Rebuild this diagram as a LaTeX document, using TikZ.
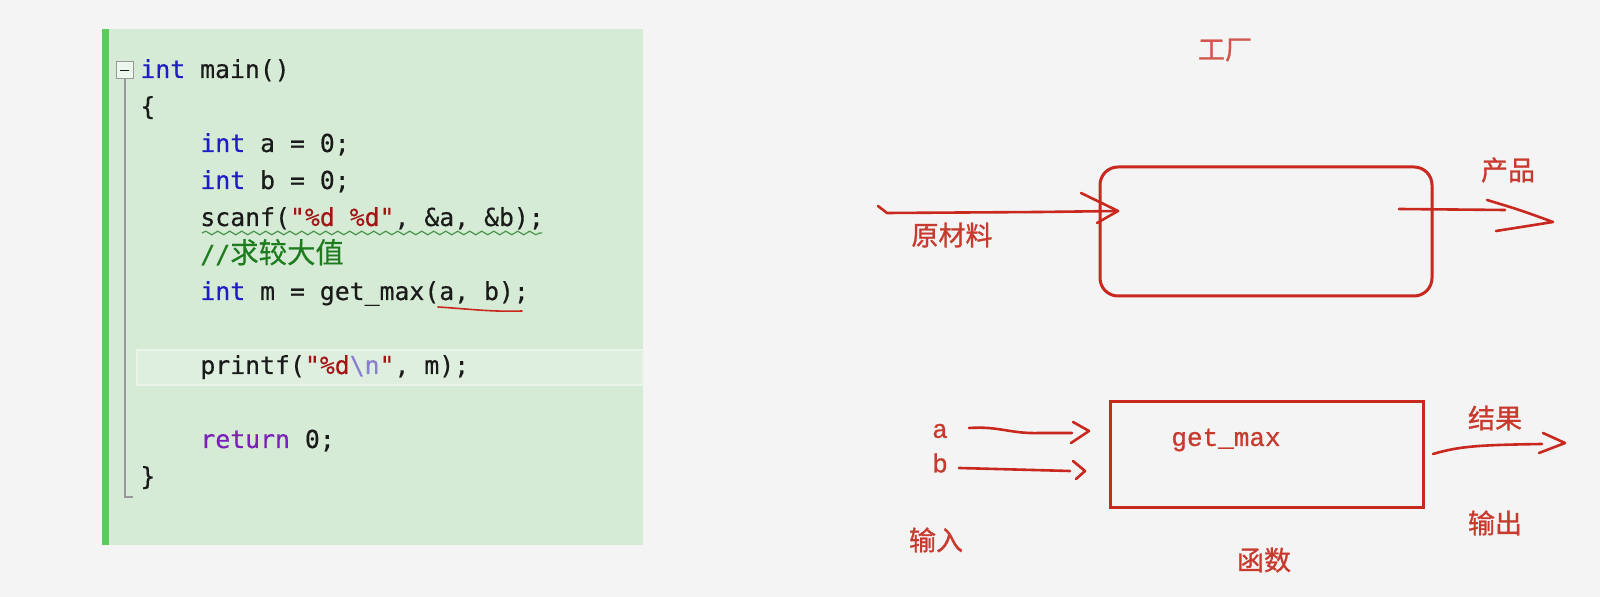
\documentclass[tikz,border=0pt]{standalone}
\usepackage{fontspec}
\setmainfont{DejaVu Sans}
\newfontfamily\codefont{DejaVu Sans Mono}[FakeBold=0.4]
\newfontfamily\cjk{Noto Sans CJK SC}[FakeBold=0.4]
\newfontfamily\cjklbl{Noto Sans CJK SC}[FakeBold=1]
\newfontfamily\gfont{Liberation Mono}[FakeBold=0.8]
\usetikzlibrary{decorations.pathmorphing,calc}
\definecolor{bg}{HTML}{F4F4F4}
\definecolor{panel}{HTML}{D5EBD5}
\definecolor{bar}{HTML}{5CCB5C}
\definecolor{band}{HTML}{DFEFDF}
\definecolor{kwc}{HTML}{1E1EC4}
\definecolor{retc}{HTML}{7A22B8}
\definecolor{strc}{HTML}{A31515}
\definecolor{escc}{HTML}{8A80D0}
\definecolor{cmtc}{HTML}{1E7B1E}
\definecolor{txtc}{HTML}{1A1A1A}
\definecolor{penc}{HTML}{C8281E}
\definecolor{lblc}{HTML}{C83A2E}
\newcommand{\ckw}[1]{\textcolor{kwc}{#1}}
\newcommand{\cret}[1]{\textcolor{retc}{#1}}
\newcommand{\cstr}[1]{\textcolor{strc}{#1}}
\newcommand{\cesc}[1]{\textcolor{escc}{#1}}
\tikzset{
  code/.style={anchor=base west, inner sep=0pt, font=\codefont\fontsize{12.4}{14}\selectfont, text=txtc},
  lbl/.style={inner sep=0pt, font=\cjklbl\fontsize{13.5}{16}\selectfont, text=lblc},
  mono/.style={inner sep=0pt, font=\gfont\fontsize{13}{15}\selectfont, text=lblc},
  pen/.style={draw=penc, line width=1.3pt, line cap=round, line join=round},
  boxpen/.style={draw=penc, line width=1.5pt, inner sep=0pt},
}
\begin{document}
\begin{tikzpicture}[x=0.5pt,y=-0.5pt]
\useasboundingbox (0,0) rectangle (1600,597);
\fill[bg] (0,0) rectangle (1600,597);
% code panel
\fill[panel] (102,29) rectangle (643,545);
\fill[bar] (102,29) rectangle (109,545);
\fill[band] (137,350) rectangle (643,385);
\draw[white!35!band, line width=0.6pt] (137,350) rectangle (643,385);
% fold marker
\draw[gray!80, line width=0.5pt, fill=panel!40!white] (116,62) rectangle (133,79);
\draw[txtc, line width=0.8pt] (120,70.5) -- (129,70.5);
\draw[gray!80, line width=0.6pt] (125,79) -- (125,497) -- (133,497);
% code
\node[code] (l0) at (140,78) {\ckw{int} main()};
\node[code] (l1) at (140,115) {\{};
\node[code] (l2) at (200,152) {\ckw{int} a = 0;};
\node[code] (l3) at (200,189) {\ckw{int} b = 0;};
\node[code] (l4) at (200,226) {scanf(\cstr{"\%d \%d"}, \&a, \&b);};
\node[code] (l5) at (200,263) {\textcolor{cmtc}{//{\cjk\fontsize{14.2}{16}\selectfont 求较大值}}};
\node[code] (l6) at (200,300) {\ckw{int} m = get\_max(a, b);};
\node[code] (l8) at (200,374) {printf(\cstr{"\%d}\cesc{\textbackslash n}\cstr{"}, m);};
\node[code] (l10) at (200,448) {\cret{return} 0;};
\node[code] (l11) at (140,485) {\}};
\draw[cmtc!80!white, line width=0.6pt, decorate, decoration={snake, amplitude=0.9pt, segment length=6pt}] (202,233) -- (542,233);
\draw[penc, line width=0.8pt, line cap=round] (438,307) .. controls (470,309) and (490,312) .. (522,311);
% factory
\node[lbl, text=lblc!85!white] (gc) at (1225,50) {工厂};
\node[boxpen, rounded corners=9pt, minimum width=166pt, minimum height=64.5pt] (factory) at (1266,231.5) {};
\coordinate (rawS) at (878,206);
\coordinate (rawT) at (1118,211);
\draw[pen] (rawS) -- (887,213) -- (1040,212) -- (rawT);
\draw[pen] (1081,193) -- (rawT) -- (1097,223);
\node[lbl] (raw) at (952,235) {原材料};
\coordinate (prodS) at (1399,209);
\coordinate (prodT) at (1553,222);
\draw[pen] (prodS) -- (1505,210);
\draw[pen] (1487,200) .. controls (1520,210) .. (prodT) -- (1496,231);
\node[lbl] (prod) at (1508,170) {产品};
% function
\node[boxpen, minimum width=156.5pt, minimum height=53pt] (func) at (1266.5,455) {};
\node[mono] (gm) at (1226,440) {get\_max};
\node[mono] (la) at (940,431) {a};
\node[mono] (lb) at (940,463) {b};
\coordinate (aS) at (969,428);
\coordinate (aT) at (1089,431);
\draw[pen] (aS) .. controls (1000,426) and (1010,434) .. (1040,433) -- (1072,433);
\draw[pen] (1073,422) -- (aT) -- (1071,443);
\coordinate (bS) at (959,468);
\coordinate (bT) at (1085,471);
\draw[pen] (bS) -- (1070,471);
\draw[pen] (1073,461) -- (bT) -- (1076,479);
\coordinate (rS) at (1433,454);
\coordinate (rT) at (1565,443);
\draw[pen] (rS) .. controls (1460,446) and (1480,445) .. (1542,444);
\draw[pen] (1543,433) -- (rT) -- (1539,453);
\node[lbl] (res) at (1495,418) {结果};
\node[lbl] (out) at (1495,523) {输出};
\node[lbl] (inp) at (936,540) {输入};
\node[lbl] (fn) at (1264,560) {函数};
\end{tikzpicture}
\end{document}
